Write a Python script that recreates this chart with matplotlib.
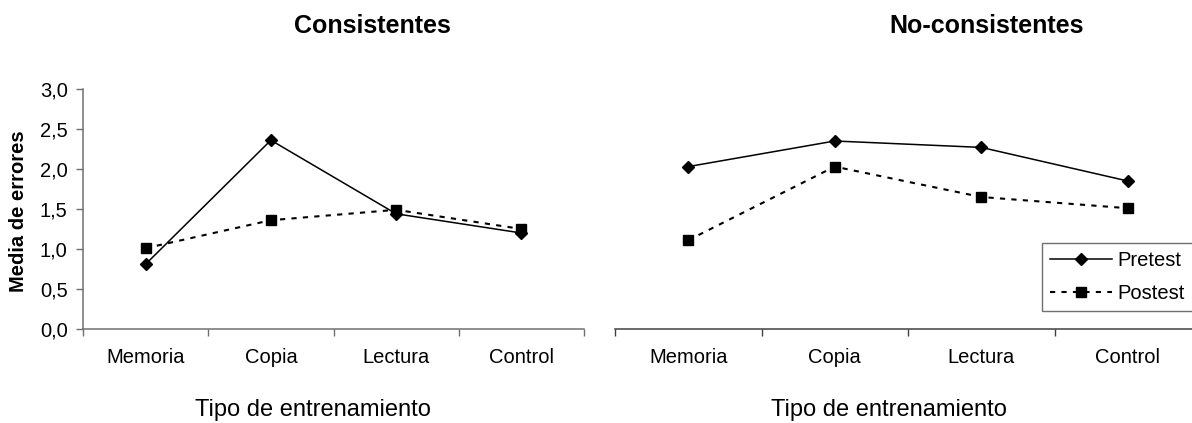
import numpy as np
import matplotlib.pyplot as plt
from matplotlib.ticker import FixedLocator, NullFormatter

plt.rcParams['font.family'] = ['Liberation Sans', 'DejaVu Sans']

# ----------------------
# Data
# ----------------------
categories = ["Memoria", "Copia", "Lectura", "Control"]

cons_pretest = [0.81, 2.36, 1.44, 1.20]
cons_postest = [1.01, 1.36, 1.49, 1.25]

nocons_pretest = [2.03, 2.35, 2.27, 1.85]
nocons_postest = [1.11, 2.03, 1.65, 1.51]

yticks = [0.0, 0.5, 1.0, 1.5, 2.0, 2.5, 3.0]
ytick_labels = [f"{v:.1f}".replace(".", ",") for v in yticks]

W, H = 1192, 423
fig = plt.figure(figsize=(W / 100, H / 100), dpi=100)


def px_axes(x0, x1, ytop, ybot):
    return fig.add_axes([x0 / W, 1 - ybot / H, (x1 - x0) / W, (ybot - ytop) / H])


def draw_panel(ax, pre, post, spine_col):
    x = np.arange(len(categories)) + 0.5
    ax.plot(x, pre, color="black", lw=1.1, marker="D", ms=6.5,
            label="Pretest", clip_on=False)
    ax.plot(x, post, color="black", lw=1.5, ls=(0, (2.5, 3)), marker="s",
            ms=6.5, label="Postest", clip_on=False)
    ax.set_xlim(0, len(categories))
    ax.set_ylim(0, 3)
    # boundary tick marks, labels at category centres
    ax.xaxis.set_major_locator(FixedLocator(np.arange(len(categories) + 1)))
    ax.xaxis.set_major_formatter(NullFormatter())
    ax.xaxis.set_minor_locator(FixedLocator(x))
    ax.set_xticklabels(categories, minor=True, fontsize=14.5)
    ax.tick_params(axis="x", which="major", direction="out", length=5,
                   width=1, color=spine_col)
    ax.tick_params(axis="x", which="minor", length=0, pad=14)
    for s in ["top", "right"]:
        ax.spines[s].set_visible(False)
    ax.spines["bottom"].set_color(spine_col)
    ax.spines["left"].set_color(spine_col)
    ax.spines["bottom"].set_linewidth(1.1)
    ax.spines["left"].set_linewidth(1.1)
    ax.set_xlabel("Tipo de entrenamiento", fontsize=17)


# left panel: Consistentes
ax1 = px_axes(83, 584, 89, 329)
draw_panel(ax1, cons_pretest, cons_postest, "#707070")
ax1.set_yticks(yticks)
ax1.set_yticklabels(ytick_labels, fontsize=14.5)
ax1.tick_params(axis="y", direction="out", length=5, width=1,
                color="#707070", pad=6)
ax1.set_ylabel("Media de errores", fontsize=14.5, fontweight="bold")
ax1.yaxis.label.set_va("center")
ax1.yaxis.set_label_coords((19 - 83) / (584 - 83), (329 - 211) / 240)

# right panel: No-consistentes (no y axis)
ax2 = px_axes(615, 1201, 89, 329)
draw_panel(ax2, nocons_pretest, nocons_postest, "#404040")
ax2.spines["left"].set_visible(False)
ax2.set_yticks([])

# x labels placed at measured centres
ax1.xaxis.set_label_coords((313 - 83) / (584 - 83), -(410 - 329) / 240)
ax2.xaxis.set_label_coords((889 - 615) / (1201 - 615), -(410 - 329) / 240)
ax1.xaxis.label.set_va("center")
ax2.xaxis.label.set_va("center")

fig.text(372 / W, 1 - 26 / H, "Consistentes", ha="center", va="center",
         fontsize=18, fontweight="bold")
fig.text(987 / W, 1 - 26 / H, "No-consistentes", ha="center", va="center",
         fontsize=18, fontweight="bold")

leg = ax2.legend(loc="upper left", bbox_to_anchor=(1042 / W, 1 - 243 / H),
                 bbox_transform=fig.transFigure, fontsize=14.5,
                 frameon=True, fancybox=False, edgecolor="#707070",
                 framealpha=1, handlelength=3.1, borderpad=0.4,
                 labelspacing=0.7, handletextpad=0.25, borderaxespad=0)
leg.get_frame().set_linewidth(1.0)

fig.savefig("out.png", dpi=100)
